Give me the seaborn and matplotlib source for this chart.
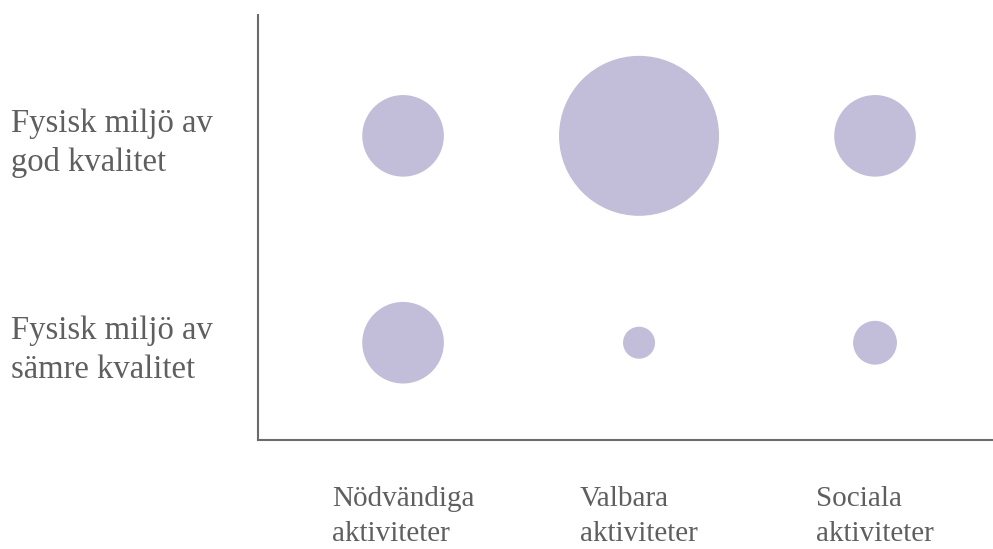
import matplotlib
matplotlib.use("Agg")
import matplotlib.pyplot as plt
import pandas as pd
import seaborn as sns

# Categories and bubble values (relative area)
activities = ["Nödvändiga\naktiviteter", "Valbara\naktiviteter", "Sociala\naktiviteter"]
environments = ["Fysisk miljö av\nsämre kvalitet", "Fysisk miljö av\ngod kvalitet"]
good_values = [26, 100, 26]
poor_values = [26, 4, 7.5]

df = pd.DataFrame({
    "x": [0, 1, 2, 0, 1, 2],
    "y": [1, 1, 1, 0, 0, 0],
    "value": good_values + poor_values,
})

sns.set_style("white")
plt.rcParams["font.family"] = ["Liberation Serif", "DejaVu Serif"]

text_color = "#5f5f5f"
fig = plt.figure(figsize=(9.93, 5.49), dpi=100)
ax = fig.add_axes([0.26, 0.199, 0.74, 0.774])

# max bubble: 160 px diameter -> 115.2 pt
sns.scatterplot(data=df, x="x", y="y", size="value", sizes=(0, 115.2 ** 2),
                size_norm=(0, 100), color="#c2bdd8", edgecolor="none",
                legend=False, ax=ax, clip_on=False)

ax.set_xlim(-0.614, 2.5)
ax.set_ylim(-0.469, 1.585)

ax.set_xticks([0, 1, 2])
ax.set_xticklabels(activities, fontsize=21, color=text_color,
                   linespacing=1.45, multialignment="left")
ax.set_yticks([0, 1])
ax.set_yticklabels(environments, fontsize=23.5, color=text_color,
                   linespacing=1.35, multialignment="left")
ax.tick_params(axis="x", length=0, pad=33)
ax.tick_params(axis="y", length=0, pad=178)
for lab in ax.get_yticklabels():
    lab.set_ha("left")

ax.set_xlabel("")
ax.set_ylabel("")
for side in ["top", "right"]:
    ax.spines[side].set_visible(False)
for side in ["left", "bottom"]:
    ax.spines[side].set_color("#6b6b6b")
    ax.spines[side].set_linewidth(1.5)

fig.savefig("out.png", dpi=100)
